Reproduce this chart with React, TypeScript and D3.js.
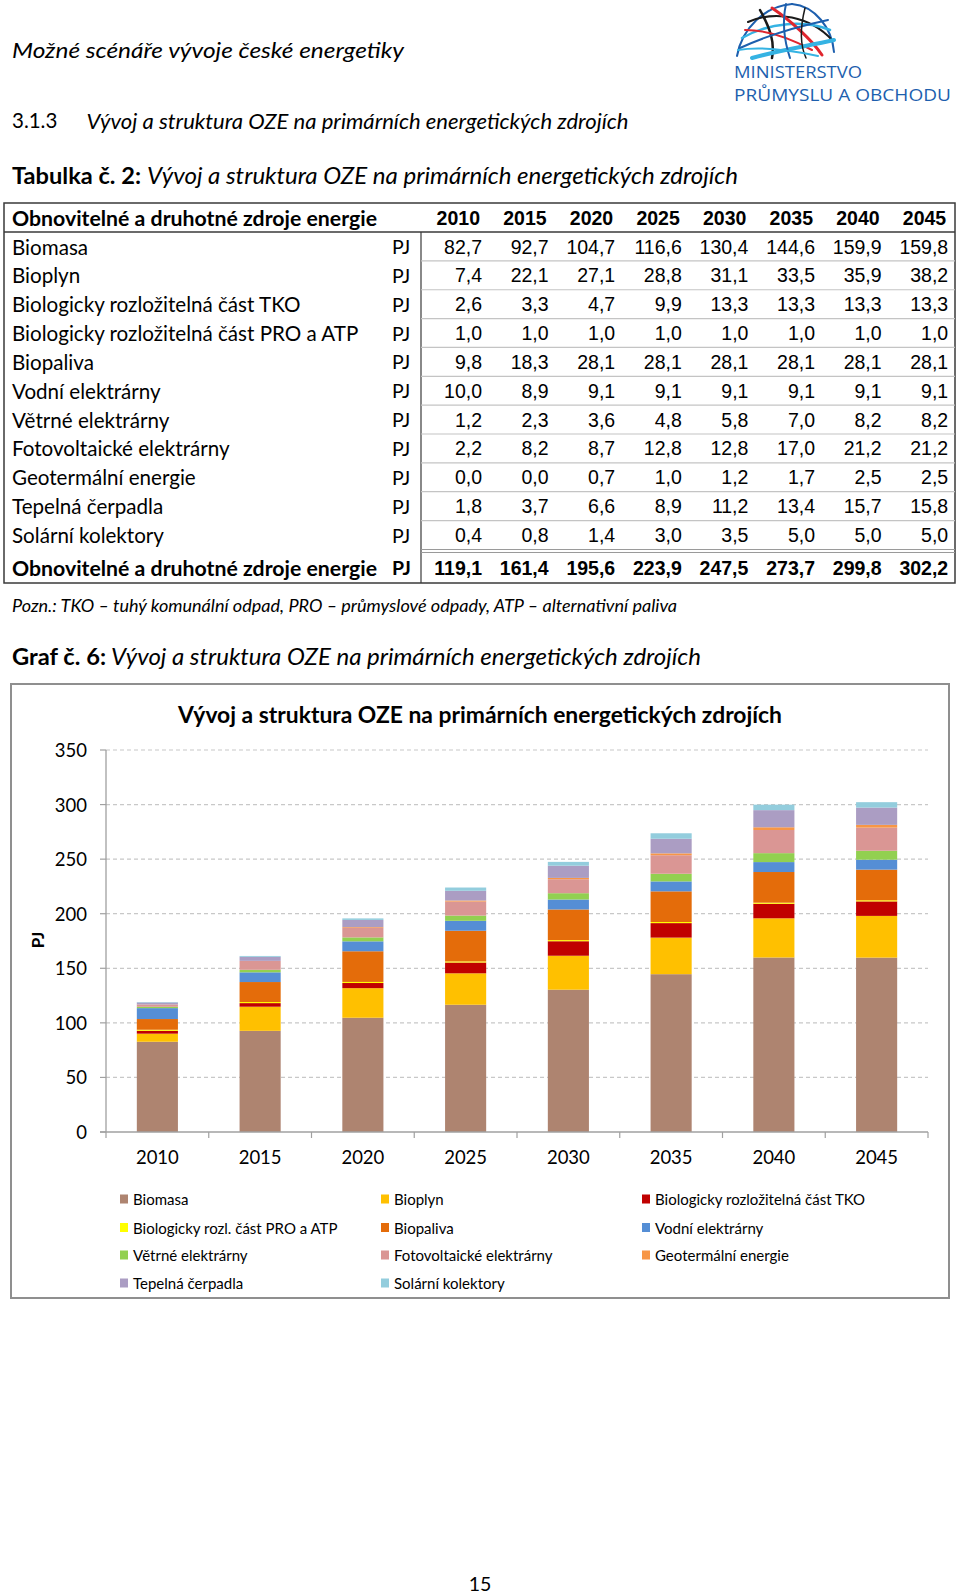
import React from 'react';
import * as d3 from 'd3';

const years = ['2010', '2015', '2020', '2025', '2030', '2035', '2040', '2045'];
const tableNames = [
  'Biomasa', 'Bioplyn', 'Biologicky rozložitelná část TKO', 'Biologicky rozložitelná část PRO a ATP',
  'Biopaliva', 'Vodní elektrárny', 'Větrné elektrárny', 'Fotovoltaické elektrárny',
  'Geotermální energie', 'Tepelná čerpadla', 'Solární kolektory',
];
const legendNames = [
  'Biomasa', 'Bioplyn', 'Biologicky rozložitelná část TKO', 'Biologicky rozl. část PRO a ATP',
  'Biopaliva', 'Vodní elektrárny', 'Větrné elektrárny', 'Fotovoltaické elektrárny',
  'Geotermální energie', 'Tepelná čerpadla', 'Solární kolektory',
];
const biomasa = [82.7, 92.7, 104.7, 116.6, 130.4, 144.6, 159.9, 159.8];
const bioplyn = [7.4, 22.1, 27.1, 28.8, 31.1, 33.5, 35.9, 38.2];
const tko = [2.6, 3.3, 4.7, 9.9, 13.3, 13.3, 13.3, 13.3];
const proAtp = [1.0, 1.0, 1.0, 1.0, 1.0, 1.0, 1.0, 1.0];
const biopaliva = [9.8, 18.3, 28.1, 28.1, 28.1, 28.1, 28.1, 28.1];
const vodni = [10.0, 8.9, 9.1, 9.1, 9.1, 9.1, 9.1, 9.1];
const vetrne = [1.2, 2.3, 3.6, 4.8, 5.8, 7.0, 8.2, 8.2];
const fotovoltaicke = [2.2, 8.2, 8.7, 12.8, 12.8, 17.0, 21.2, 21.2];
const geotermalni = [0.0, 0.0, 0.7, 1.0, 1.2, 1.7, 2.5, 2.5];
const tepelna = [1.8, 3.7, 6.6, 8.9, 11.2, 13.4, 15.7, 15.8];
const solarni = [0.4, 0.8, 1.4, 3.0, 3.5, 5.0, 5.0, 5.0];
const totals = [119.1, 161.4, 195.6, 223.9, 247.5, 273.7, 299.8, 302.2];
const seriesValues = [biomasa, bioplyn, tko, proAtp, biopaliva, vodni, vetrne, fotovoltaicke, geotermalni, tepelna, solarni];
const colors = ['#ae8470', '#ffc000', '#c00000', '#ffff00', '#e46c0a', '#558ed5', '#92d050', '#da9694', '#f79646', '#ab9dc3', '#93cddd'];
const yTicks = [0, 50, 100, 150, 200, 250, 300, 350];

const CAL = 'Lato, "Open Sans", sans-serif';
const ARIAL = '"Liberation Sans", Arial, sans-serif';
const fmt = (v: number) => v.toFixed(1).replace('.', ',');

function Logo() {
  const blue = '#1d5fae';
  const cyan = '#35b3e3';
  const red = '#e0262e';
  const black = '#1a1a1a';
  const lines: [string, string, number][] = [
    ['M737,56 C742,28 765,6 792,4', blue, 2],
    ['M792,4 C815,6 832,28 834,52', blue, 2],
    ['M748,22 C775,10 810,16 832,40', black, 2],
    ['M742,38 C770,22 805,20 830,30', cyan, 2.5],
    ['M760,10 C770,28 775,42 772,58', black, 2.5],
    ['M772,8 C790,20 812,40 822,55', red, 3],
    ['M745,30 C765,30 790,38 812,50', red, 2],
    ['M740,48 C770,34 800,26 828,20', blue, 2],
    ['M752,58 C780,50 808,46 834,40', cyan, 4],
    ['M786,4 C782,22 784,40 790,58', blue, 2],
    ['M805,8 C800,28 800,45 806,58', black, 1.5],
    ['M738,50 C762,46 790,50 818,56', cyan, 2],
  ];
  return (
    <g>
      {lines.map(([d, c, w], i) => (
        <path key={i} d={d} fill="none" stroke={c} strokeWidth={w} strokeLinecap="round" />
      ))}
      <text x={734} y={71} dominantBaseline="central" fontFamily='"Open Sans", sans-serif' fontSize={17} fill={blue} textLength={128} lengthAdjust="spacingAndGlyphs">MINISTERSTVO</text>
      <text x={734} y={94} dominantBaseline="central" fontFamily='"Open Sans", sans-serif' fontSize={17} fill={blue} textLength={217} lengthAdjust="spacingAndGlyphs">PRŮMYSLU A OBCHODU</text>
    </g>
  );
}

function Table() {
  const rowY = (i: number) => 246.5 + i * 28.85;
  const colRight = (j: number) => 482 + j * 66.6;
  const lineColor = '#3a3a3a';
  return (
    <g>
      <rect x={4} y={203} width={951} height={380} fill="none" stroke={lineColor} strokeWidth={1.5} />
      <line x1={4} x2={955} y1={232} y2={232} stroke={lineColor} strokeWidth={1.3} />
      <line x1={421} x2={421} y1={232} y2={583} stroke={lineColor} strokeWidth={1.2} />
      {d3.range(10).map(i => (
        <line key={i} x1={421} x2={955} y1={rowY(i) + 14.4} y2={rowY(i) + 14.4} stroke="#c4c4c4" strokeWidth={1.2} />
      ))}
      <line x1={421} x2={955} y1={549.5} y2={549.5} stroke="#9a9a9a" strokeWidth={1} />
      <line x1={421} x2={955} y1={552.5} y2={552.5} stroke="#9a9a9a" strokeWidth={1} />
      <text x={12} y={217.5} dominantBaseline="central" fontFamily={CAL} fontWeight={700} fontSize={21} textLength={365} lengthAdjust="spacingAndGlyphs">Obnovitelné a druhotné zdroje energie</text>
      {years.map((yr, j) => (
        <text key={yr} x={colRight(j) - 2} y={217.5} dominantBaseline="central" textAnchor="end" fontFamily={ARIAL} fontWeight={700} fontSize={19.5}>{yr}</text>
      ))}
      {tableNames.map((name, i) => (
        <g key={name}>
          <text x={12} y={rowY(i)} dominantBaseline="central" fontFamily={CAL} fontSize={20.6}>{name}</text>
          <text x={392} y={rowY(i)} dominantBaseline="central" fontFamily={CAL} fontSize={19.5}>PJ</text>
          {seriesValues[i].map((v, j) => (
            <text key={j} x={colRight(j)} y={rowY(i)} dominantBaseline="central" textAnchor="end" fontFamily={ARIAL} fontSize={19.5}>{fmt(v)}</text>
          ))}
        </g>
      ))}
      <text x={12} y={567.5} dominantBaseline="central" fontFamily={CAL} fontWeight={700} fontSize={21} textLength={365} lengthAdjust="spacingAndGlyphs">Obnovitelné a druhotné zdroje energie</text>
      <text x={392} y={567.5} dominantBaseline="central" fontFamily={CAL} fontWeight={700} fontSize={19.5}>PJ</text>
      {totals.map((v, j) => (
        <text key={j} x={colRight(j)} y={567.5} dominantBaseline="central" textAnchor="end" fontFamily={ARIAL} fontWeight={700} fontSize={19.5}>{fmt(v)}</text>
      ))}
    </g>
  );
}

function Chart() {
  const x = d3.scaleBand<string>().domain(years).range([106, 928]).paddingInner(0.6).paddingOuter(0.3);
  const y = d3.scaleLinear().domain([0, 350]).range([1132, 750]);
  const keys = seriesValues.map((_, i) => 's' + i);
  const rows = years.map((yr, j) => {
    const o: any = { year: yr };
    seriesValues.forEach((arr, i) => { o['s' + i] = arr[j]; });
    return o;
  });
  const stacked = d3.stack<any>().keys(keys)(rows);
  const step = x.step();
  const legendCols = [120, 381, 642];
  const legendRows = [1199, 1227.5, 1255, 1283];
  return (
    <g>
      <rect x={11} y={684} width={938} height={614} fill="#fff" stroke="#8f8f8f" strokeWidth={2} />
      <text x={480} y={714} textAnchor="middle" dominantBaseline="central" fontFamily={CAL} fontWeight={700} fontSize={22.5} textLength={604} lengthAdjust="spacingAndGlyphs">Vývoj a struktura OZE na primárních energetických zdrojích</text>
      {yTicks.filter(t => t > 0).map(t => (
        <line key={t} x1={106} x2={928} y1={y(t)} y2={y(t)} stroke="#c8c8c8" strokeWidth={1.2} strokeDasharray="4,3" />
      ))}
      {yTicks.map(t => (
        <g key={t}>
          <line x1={100} x2={106} y1={y(t)} y2={y(t)} stroke="#a0a0a0" strokeWidth={1.2} />
          <text x={87} y={y(t)} textAnchor="end" dominantBaseline="central" fontFamily={CAL} fontSize={18.5}>{t}</text>
        </g>
      ))}
      {stacked.map((layer, i) => (
        <g key={i} fill={colors[i]}>
          {layer.map((d, j) => (
            <rect key={j} x={x(years[j])} width={x.bandwidth()} y={y(d[1])} height={Math.max(0, y(d[0]) - y(d[1]))} />
          ))}
        </g>
      ))}
      <line x1={106} x2={106} y1={750} y2={1132} stroke="#a0a0a0" strokeWidth={1.3} />
      <line x1={100} x2={928} y1={1132} y2={1132} stroke="#a0a0a0" strokeWidth={1.3} />
      {d3.range(years.length + 1).map(i => (
        <line key={i} x1={106 + i * step} x2={106 + i * step} y1={1132} y2={1138} stroke="#a0a0a0" strokeWidth={1.2} />
      ))}
      {years.map(yr => (
        <text key={yr} x={(x(yr) as number) + x.bandwidth() / 2} y={1157} textAnchor="middle" dominantBaseline="central" fontFamily={CAL} fontSize={18.5}>{yr}</text>
      ))}
      <text transform="translate(37,940) rotate(-90)" textAnchor="middle" dominantBaseline="central" fontFamily={CAL} fontWeight={700} fontSize={17}>PJ</text>
      {legendNames.map((name, i) => {
        const cx = legendCols[i % 3];
        const cy = legendRows[Math.floor(i / 3)];
        return (
          <g key={name}>
            <rect x={cx} y={cy - 4.5} width={8} height={9} fill={colors[i]} />
            <text x={cx + 13} y={cy} dominantBaseline="central" fontFamily={CAL} fontSize={15}>{name}</text>
          </g>
        );
      })}
    </g>
  );
}

export default function App() {
  return (
    <svg width={960} height={1595} style={{ position: 'absolute', left: 0, top: 0, background: '#fff' }} fontFamily={CAL}>
      <rect x={0} y={0} width={960} height={1595} fill="#fff" />
      <text x={12} y={49} dominantBaseline="central" fontFamily={CAL} fontStyle="italic" fontSize={22} textLength={392} lengthAdjust="spacingAndGlyphs">Možné scénáře vývoje české energetiky</text>
      <Logo />
      <text x={12} y={120} dominantBaseline="central" fontFamily={CAL} fontSize={20.5}>3.1.3</text>
      <text x={86.5} y={120} dominantBaseline="central" fontFamily={CAL} fontStyle="italic" fontSize={21} textLength={542} lengthAdjust="spacingAndGlyphs">Vývoj a struktura OZE na primárních energetických zdrojích</text>
      <text x={12} y={175} dominantBaseline="central" fontFamily={CAL} fontWeight={700} fontSize={22} textLength={129} lengthAdjust="spacingAndGlyphs">Tabulka č. 2:</text>
      <text x={147} y={175} dominantBaseline="central" fontFamily={CAL} fontStyle="italic" fontSize={22.5} textLength={591} lengthAdjust="spacingAndGlyphs">Vývoj a struktura OZE na primárních energetických zdrojích</text>
      <Table />
      <text x={12} y={605} dominantBaseline="central" fontFamily={CAL} fontStyle="italic" fontSize={17.5} textLength={665} lengthAdjust="spacingAndGlyphs">Pozn.: TKO – tuhý komunální odpad, PRO – průmyslové odpady, ATP – alternativní paliva</text>
      <text x={12} y={656} dominantBaseline="central" fontFamily={CAL} fontWeight={700} fontSize={22} textLength={94} lengthAdjust="spacingAndGlyphs">Graf č. 6:</text>
      <text x={111} y={656} dominantBaseline="central" fontFamily={CAL} fontStyle="italic" fontSize={22.5} textLength={590} lengthAdjust="spacingAndGlyphs">Vývoj a struktura OZE na primárních energetických zdrojích</text>
      <Chart />
      <text x={480} y={1583} textAnchor="middle" dominantBaseline="central" fontFamily={CAL} fontSize={19.5}>15</text>
    </svg>
  );
}
